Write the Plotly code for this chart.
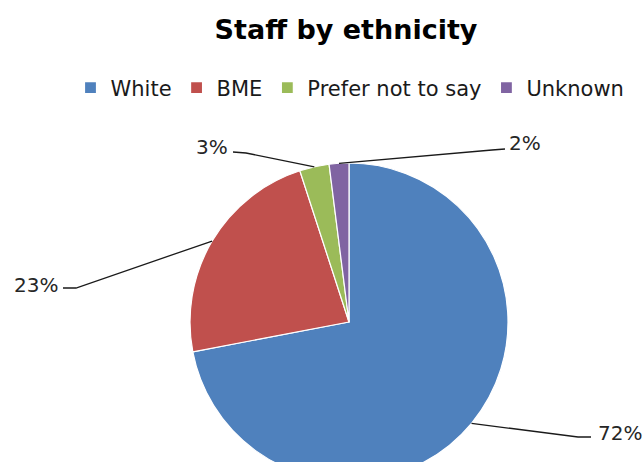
import math
import plotly.graph_objects as go

# ---- data ----
categories = ["White", "BME", "Prefer not to say", "Unknown"]
values = [72, 23, 3, 2]
colors = ["#4F81BD", "#C0504D", "#9BBB59", "#8064A2"]

# ---- layout constants (pixels) ----
W, H = 644, 482
cx, cy, r = 349, 322, 159          # pie centre / radius
# label anchor: (text x, text y, xanchor, elbow x, elbow y, end x, end y)
label_layout = [
    (596, 433, "left", 578, 437, 591, 437),
    (60, 285, "right", 76, 288, 63, 288),
    (230, 147, "right", 246, 153, 233, 152),
    (507, 143, "left", 492, 150, 505, 149),
]


def px(x):
    return x / W


def py(y):
    return 1 - y / H


fig = go.Figure()
fig.add_trace(go.Pie(
    labels=categories,
    values=values,
    sort=False,
    direction="clockwise",
    rotation=0,
    marker=dict(colors=colors, line=dict(color="white", width=1.2)),
    textinfo="none",
    hoverinfo="label+percent",
    domain=dict(x=[px(cx - r), px(cx + r)], y=[py(cy + r), py(cy - r)]),
))

total = sum(values)
cum = 0
shapes = []
annotations = []
for v, lay in zip(values, label_layout):
    mid = (cum + v / 2) / total * 2 * math.pi
    cum += v
    ex = cx + r * math.sin(mid)
    ey = cy - r * math.cos(mid)
    tx, ty, anchor, bx, by, endx, endy = lay
    path = f"M {px(ex)},{py(ey)} L {px(bx)},{py(by)} L {px(endx)},{py(endy)}"
    shapes.append(dict(type="path", xref="paper", yref="paper", path=path,
                       line=dict(color="#1a1a1a", width=1.3)))
    annotations.append(dict(
        x=px(tx), y=py(ty), xref="paper", yref="paper",
        text=f"{round(v / total * 100)}%", showarrow=False,
        xanchor=anchor, yanchor="middle",
        font=dict(family="DejaVu Sans", size=20, color="#262626"),
    ))

fig.update_layout(
    width=W, height=H,
    margin=dict(l=0, r=0, t=0, b=0),
    paper_bgcolor="white",
    plot_bgcolor="white",
    title=dict(text="<b>Staff by ethnicity</b>", x=px(346), xanchor="center",
               y=py(30), yanchor="middle",
               font=dict(family="DejaVu Sans", size=27, color="#000000")),
    legend=dict(orientation="h", x=px(350), xanchor="center", y=py(88),
                yanchor="middle",
                font=dict(family="DejaVu Sans", size=21, color="#1a1a1a"),
                traceorder="normal"),
    shapes=shapes,
    annotations=annotations,
)

fig.write_html("out.html",
               config={"displayModeBar": False},
               post_script="document.body.style.margin='0';"
                           "document.body.style.overflow='hidden';")
